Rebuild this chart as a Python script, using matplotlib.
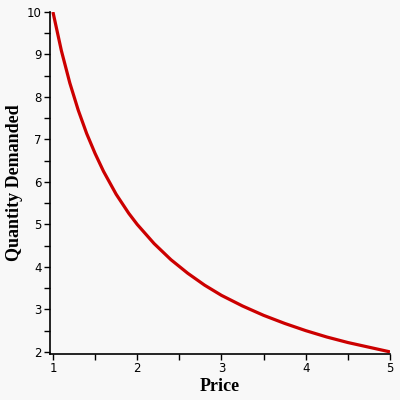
import matplotlib.pyplot as plt

# Values
price = [1.0, 1.1, 1.2, 1.3, 1.4, 1.5, 1.6, 1.75, 1.9, 2.0, 2.2, 2.4, 2.6,
         2.8, 3.0, 3.25, 3.5, 3.75, 4.0, 4.25, 4.5, 4.75, 5.0]
quantity = [10.0, 9.09, 8.33, 7.69, 7.14, 6.67, 6.25, 5.71, 5.26, 5.0, 4.55,
            4.17, 3.85, 3.57, 3.33, 3.08, 2.86, 2.67, 2.5, 2.35, 2.22, 2.11, 2.0]

x_ticks = [1, 2, 3, 4, 5]
y_ticks = [2, 3, 4, 5, 6, 7, 8, 9, 10]

bg = '#f8f8f8'
fig = plt.figure(figsize=(4, 4), dpi=100, facecolor=bg)
ax = fig.add_axes([0.125, 0.115, 0.85, 0.855], facecolor=bg)

ax.plot(price, quantity, color='#cc0000', linewidth=2.3, solid_capstyle='butt')

ax.set_xlim(0.965, 5.0)
ax.set_ylim(1.95, 10.0)
ax.set_xticks(x_ticks)
ax.set_yticks(y_ticks)
ax.set_xticks([1.5, 2.5, 3.5, 4.5], minor=True)
ax.set_yticks([2.5, 3.5, 4.5, 5.5, 6.5, 7.5, 8.5, 9.5], minor=True)
ax.tick_params(which='both', direction='out', length=4, width=1, color='black',
               labelsize=8.5, pad=2)
for lab in ax.get_xticklabels() + ax.get_yticklabels():
    lab.set_family('DejaVu Sans')

for side in ['top', 'right']:
    ax.spines[side].set_visible(False)
for side in ['left', 'bottom']:
    ax.spines[side].set_linewidth(1.2)

ax.set_xlabel('Price', family='Liberation Serif', fontweight='bold', fontsize=13, labelpad=2)
ax.set_ylabel('Quantity Demanded', family='Liberation Serif', fontweight='bold', fontsize=13)
ax.yaxis.set_label_coords(-0.078, 0.5)

fig.savefig('out.png', dpi=100, facecolor=bg)
